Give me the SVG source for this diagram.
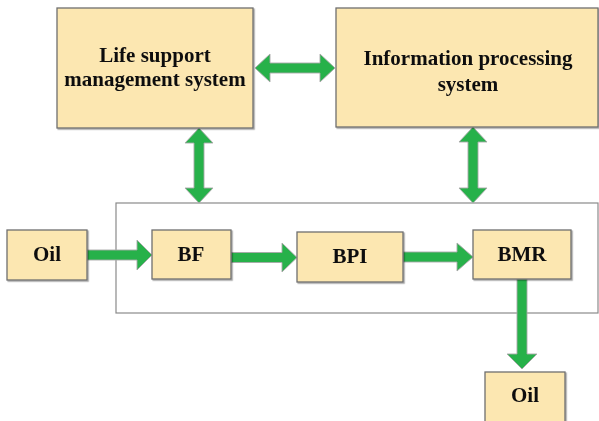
<svg xmlns="http://www.w3.org/2000/svg" width="599" height="421" viewBox="0 0 599 421">
<defs>
<style>
.box{fill:#fce7b1;stroke:#6f6f6f;stroke-width:1.3}
.frame{fill:none;stroke:#8a8a8a;stroke-width:1.2}
.arr{fill:#27b14a;stroke:#a8a8a8;stroke-width:0.9}
text{font-family:"Liberation Serif","Times New Roman",serif;font-weight:bold;fill:#111;text-anchor:middle;font-size:21px}
</style>
<filter id="sh" x="-10%" y="-10%" width="120%" height="120%">
<feDropShadow dx="1.2" dy="1.2" stdDeviation="0.6" flood-color="#000" flood-opacity="0.35"/>
</filter>
</defs>
<rect class="frame" x="116" y="203" width="482" height="110"/>
<g id="connectors">
<path class="arr" d="M255,68 L270,54 L270,63 L320,63 L320,54 L335,68 L320,82 L320,73 L270,73 L270,82 Z"/>
<path class="arr" d="M199,128 L213,143 L204,143 L204,188 L213,188 L199,203 L185,188 L194,188 L194,143 L185,143 Z"/>
<path class="arr" d="M473,127 L487,142 L478,142 L478,188 L487,188 L473,203 L459,188 L468,188 L468,142 L459,142 Z"/>
<path class="arr" d="M87,250 L137,250 L137,240 L152,255 L137,270 L137,260 L87,260 Z"/>
<path class="arr" d="M231,252.5 L282,252.5 L282,243 L297,257.5 L282,272 L282,262.5 L231,262.5 Z"/>
<path class="arr" d="M403,252 L457,252 L457,243 L473,257 L457,271 L457,262 L403,262 Z"/>
<path class="arr" d="M517,279 L527,279 L527,354 L537,354 L522,369 L507,354 L517,354 Z"/>
</g>
<g id="life" filter="url(#sh)">
<rect class="box" x="57" y="8" width="196" height="120"/>
<text x="155" y="62">Life support</text>
<text x="155" y="86">management system</text>
</g>
<g id="info" filter="url(#sh)">
<rect class="box" x="336" y="8" width="262" height="119"/>
<text x="468" y="65">Information processing</text>
<text x="468" y="91">system</text>
</g>
<g id="oil-in" filter="url(#sh)">
<rect class="box" x="7" y="230" width="80" height="50"/>
<text x="47" y="261">Oil</text>
</g>
<g id="bf" filter="url(#sh)">
<rect class="box" x="152" y="230" width="79" height="49"/>
<text x="191" y="261">BF</text>
</g>
<g id="bpi" filter="url(#sh)">
<rect class="box" x="297" y="232" width="106" height="50"/>
<text x="350" y="263">BPI</text>
</g>
<g id="bmr" filter="url(#sh)">
<rect class="box" x="473" y="230" width="98" height="49"/>
<text x="522" y="261">BMR</text>
</g>
<g id="oil-out" filter="url(#sh)">
<rect class="box" x="485" y="372" width="80" height="55"/>
<text x="525" y="402">Oil</text>
</g>
</svg>
